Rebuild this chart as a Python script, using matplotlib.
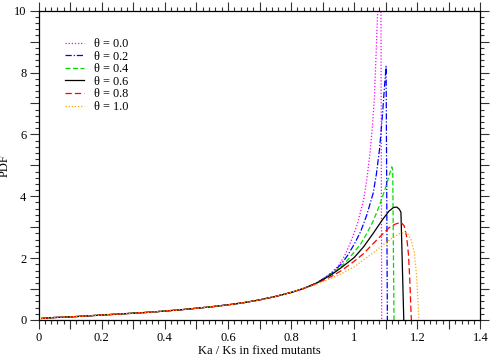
import matplotlib
matplotlib.use("Agg")
import matplotlib.pyplot as plt
from matplotlib.ticker import MultipleLocator, FuncFormatter

plt.rcParams['font.family'] = ['Liberation Serif', 'DejaVu Serif']

# Shared low part of all curves
base_x = [0.01, 0.05, 0.10, 0.15, 0.20, 0.25, 0.30, 0.35, 0.40, 0.45, 0.50,
          0.55, 0.60, 0.65, 0.70, 0.75, 0.80, 0.84]
base_y = [0.05, 0.08, 0.10, 0.13, 0.16, 0.19, 0.22, 0.25, 0.29, 0.33, 0.38,
          0.43, 0.49, 0.56, 0.65, 0.76, 0.89, 1.02]

labels = ["θ = 0.0", "θ = 0.2", "θ = 0.4", "θ = 0.6", "θ = 0.8", "θ = 1.0"]

tail_x_00 = [0.88, 0.90, 0.93, 0.95, 0.97, 0.99, 1.01, 1.03, 1.04, 1.05, 1.058,
             1.064, 1.07, 1.075, 1.080, 1.084, 1.087]
tail_y_00 = [1.19, 1.33, 1.55, 1.76, 2.08, 2.55, 3.10, 3.90, 4.55, 5.40, 6.30,
             7.20, 8.80, 10.2, 12.0, 13.5, 0.0]

tail_x_02 = [0.88, 0.90, 0.93, 0.96, 0.98, 1.00, 1.02, 1.04, 1.06, 1.07, 1.08,
             1.09, 1.097, 1.101, 1.105]
tail_y_02 = [1.19, 1.32, 1.52, 1.82, 2.10, 2.45, 2.85, 3.40, 4.10, 4.70, 5.50,
             6.70, 7.70, 8.20, 0.0]

tail_x_04 = [0.88, 0.90, 0.93, 0.96, 0.98, 1.00, 1.02, 1.04, 1.06, 1.08, 1.10,
             1.11, 1.119, 1.122, 1.126]
tail_y_04 = [1.19, 1.31, 1.50, 1.74, 1.95, 2.20, 2.45, 2.80, 3.20, 3.70, 4.30,
             4.65, 4.95, 4.85, 0.0]

tail_x_06 = [0.88, 0.90, 0.93, 0.96, 1.00, 1.03, 1.06, 1.09, 1.11, 1.125, 1.135,
             1.143, 1.148, 1.157]
tail_y_06 = [1.19, 1.30, 1.48, 1.70, 2.02, 2.37, 2.80, 3.25, 3.52, 3.64, 3.65,
             3.58, 3.48, 0.0]

tail_x_08 = [0.88, 0.90, 0.93, 0.96, 1.00, 1.03, 1.06, 1.09, 1.11, 1.13, 1.148,
             1.158, 1.166, 1.172, 1.176, 1.179, 1.181]
tail_y_08 = [1.18, 1.27, 1.42, 1.60, 1.90, 2.15, 2.47, 2.78, 2.98, 3.10, 3.16,
             3.05, 2.70, 2.10, 1.30, 0.50, 0.0]

tail_x_10 = [0.86, 0.88, 0.90, 0.93, 0.96, 1.00, 1.03, 1.06, 1.09, 1.12, 1.145,
             1.16, 1.17, 1.18, 1.19, 1.197, 1.202, 1.205]
tail_y_10 = [1.08, 1.15, 1.24, 1.36, 1.50, 1.72, 1.95, 2.17, 2.42, 2.65, 2.80,
             2.83, 2.78, 2.60, 2.20, 1.50, 0.60, 0.0]

tails = [(tail_x_00, tail_y_00), (tail_x_02, tail_y_02), (tail_x_04, tail_y_04),
         (tail_x_06, tail_y_06), (tail_x_08, tail_y_08), (tail_x_10, tail_y_10)]

colors = ["#ff00ff", "#0000ff", "#00dd00", "#000000", "#ff0000", "#ffa500"]
styles = [(0, (1, 1.5)), (0, (5, 1.5, 1, 1.5)), (0, (4, 2)), "-", (0, (5, 2.5)), (0, (1, 1.5))]

fig = plt.figure(figsize=(4.91, 3.56), dpi=100)
ax = fig.add_axes([38.5 / 491, 1 - 320 / 356, 442 / 491, 309.3 / 356])

for (tx, ty), c, ls, lab in zip(tails, colors, styles, labels):
    xs = base_x + tx
    ys = base_y + ty
    ax.plot(xs, ys, color=c, linestyle=ls, linewidth=0.9, label=lab)

ax.set_xlim(0, 1.4)
ax.set_ylim(0, 10)

ax.xaxis.set_major_locator(MultipleLocator(0.1))
ax.xaxis.set_minor_locator(MultipleLocator(0.02))
ax.yaxis.set_major_locator(MultipleLocator(1))
ax.yaxis.set_minor_locator(MultipleLocator(0.2))


def xfmt(v, pos):
    k = int(round(v * 10))
    return "" if k % 2 else "%g" % (k / 10)


def yfmt(v, pos):
    k = int(round(v))
    return "" if k % 2 else "%d" % k


ax.xaxis.set_major_formatter(FuncFormatter(xfmt))
ax.yaxis.set_major_formatter(FuncFormatter(yfmt))

ax.tick_params(which="both", direction="out", top=True, right=True,
               labelsize=9, width=0.8, color="#333333")
ax.tick_params(which="major", length=6.2, pad=2.5)
ax.tick_params(which="minor", length=3.2)
for s in ax.spines.values():
    s.set_linewidth(0.9)

ax.set_xlabel("Ka / Ks in fixed mutants", fontsize=9, labelpad=1)
ax.set_ylabel("PDF", fontsize=9)
ax.yaxis.set_label_coords(-0.062, 0.5)

leg = ax.legend(loc="upper left", bbox_to_anchor=(0.06, 0.912), frameon=False,
                fontsize=8.8, handlelength=1.55, handletextpad=0.85,
                labelspacing=0.05, borderpad=0, borderaxespad=0)

fig.savefig("out.png", dpi=100)
